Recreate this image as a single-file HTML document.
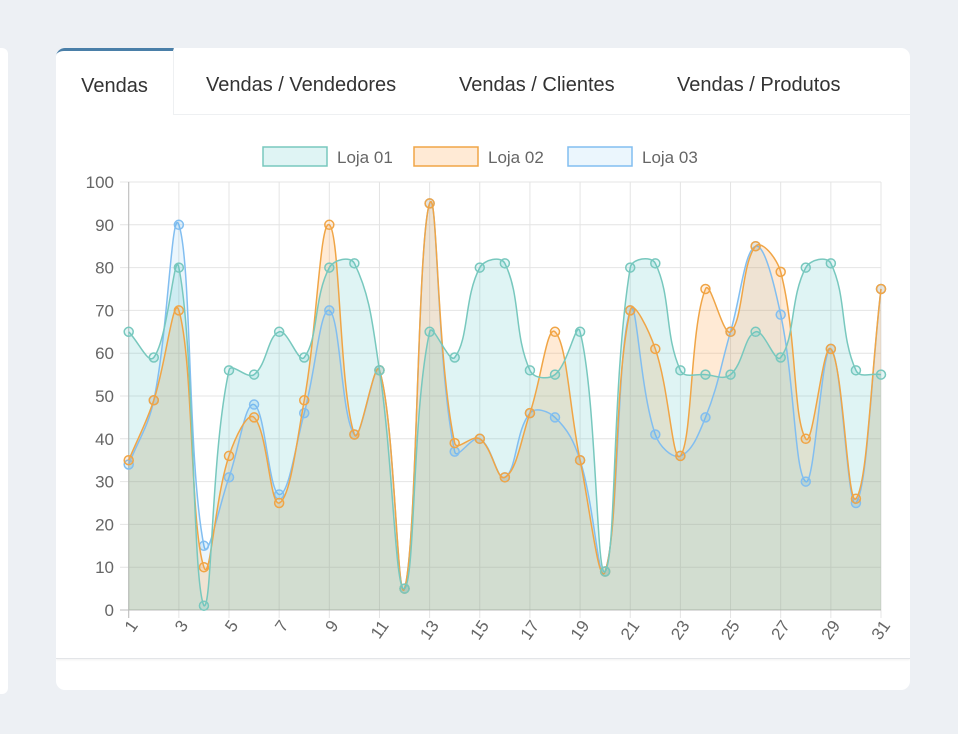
<!DOCTYPE html>
<html><head><meta charset="utf-8"><style>
body{margin:0;width:958px;height:734px;background:#edf0f4;font-family:"Liberation Sans",sans-serif;position:relative;overflow:hidden}
.left{position:absolute;left:-10px;top:48px;width:18px;height:646px;background:#fff;border-radius:6px}
.card{position:absolute;left:56px;top:48px;width:854px;height:642px;background:#fff;border-radius:9px;overflow:hidden}
.tabs{position:absolute;left:0;top:0;width:854px;height:66px;border-bottom:1px solid #eef0f2}
.tab{position:absolute;top:0;height:66px;line-height:74px;font-size:20px;color:#333}
.active{left:0;width:117px;border-top:3px solid #4a7fa8;border-right:1px solid #eef0f2;height:64px;background:#fff;text-align:center;line-height:70px;z-index:2;box-sizing:content-box;border-radius:8px 0 0 0}
.panel{position:absolute;left:0;top:67px;width:854px;height:543px;border-bottom:1px solid #e3e5e8;box-shadow:0 1px 2px rgba(0,0,0,.06)}
svg{position:absolute;left:0;top:0}
</style></head><body>
<div class="left"></div>
<div class="card">
<div class="tabs">
<div class="tab active">Vendas</div>
<div class="tab" style="left:150px">Vendas / Vendedores</div>
<div class="tab" style="left:403px">Vendas / Clientes</div>
<div class="tab" style="left:621px">Vendas / Produtos</div>
</div>
<div class="panel"></div>
</div>
<svg id="c" width="958" height="734" font-family="Liberation Sans, sans-serif"></svg>
<script>
var d1=[65,59,80,1,56,55,65,59,80,81,56,5,65,59,80,81,56,55,65,9,80,81,56,55,55,65,59,80,81,56,55];
var d2=[35,49,70,10,36,45,25,49,90,41,56,5,95,39,40,31,46,65,35,9,70,61,36,75,65,85,79,40,61,26,75];
var d3=[34,49,90,15,31,48,27,46,70,41,56,5,95,37,40,31,46,45,35,9,70,41,36,45,65,85,69,30,61,25,75];
var X0=128.7,X1=881,Y0=610,Y1=182;
function px(i){return X0+(X1-X0)*i/30}
function py(v){return Y0-(Y0-Y1)*v/100}
var s='';
for(var v=0;v<=100;v+=10){var y=py(v);s+='<line x1="120" x2="881" y1="'+y+'" y2="'+y+'" stroke="#e4e4e4" stroke-width="1"/>';
s+='<text x="114" y="'+(y+6)+'" font-size="17" fill="#666" text-anchor="end">'+v+'</text>';}
for(var i=0;i<31;i+=2){var x=px(i);s+='<line x1="'+x+'" x2="'+x+'" y1="182" y2="618" stroke="#e4e4e4"/>';
s+='<text transform="translate('+(x+5)+',622) rotate(-55)" font-size="17" fill="#666" text-anchor="end" dy="6">'+(i+1)+'</text>';}
s+='<line x1="128.7" x2="128.7" y1="182" y2="618" stroke="#bbb"/><line x1="120" x2="881" y1="610" y2="610" stroke="#bbb"/>';
function path(d){var p=d.map(function(v,i){return [px(i),py(v)]});var t=0.4;var c=[];
for(var i=0;i<p.length;i++){var pr=p[Math.max(i-1,0)],cu=p[i],nx=p[Math.min(i+1,p.length-1)];
var d01=Math.hypot(cu[0]-pr[0],cu[1]-pr[1]),d12=Math.hypot(nx[0]-cu[0],nx[1]-cu[1]);var s01=d01/(d01+d12||1),s12=d12/(d01+d12||1);
var fa=t*s01,fb=t*s12;c.push([[cu[0]-fa*(nx[0]-pr[0]),cu[1]-fa*(nx[1]-pr[1])],[cu[0]+fb*(nx[0]-pr[0]),cu[1]+fb*(nx[1]-pr[1])]]);}
function cap(q){return [Math.max(X0,Math.min(X1,q[0])),Math.max(Y1,Math.min(Y0,q[1]))]}
var str='M'+p[0][0]+','+p[0][1];for(var i=1;i<p.length;i++){var a=cap(c[i-1][1]),b=cap(c[i][0]);str+=' C'+a+' '+b+' '+p[i];}return str;}
var sets=[[d3,'54,162,235',0.1,'130,190,240'],[d2,'255,159,64',0.22,'240,165,70'],[d1,'75,192,192',0.18,'120,200,190']];
sets.forEach(function(st){var pa=path(st[0]);s+='<path d="'+pa+' L'+X1+','+Y0+' L'+X0+','+Y0+'Z" fill="rgba('+st[1]+','+st[2]+')"/>';});
sets.forEach(function(st){var pa=path(st[0]);s+='<path d="'+pa+'" fill="none" stroke="rgb('+st[3]+')" stroke-width="1.5"/>';
st[0].forEach(function(v,i){s+='<circle cx="'+px(i)+'" cy="'+py(v)+'" r="4.5" fill="rgba('+st[1]+',0.15)" stroke="rgb('+st[3]+')" stroke-width="1.5"/>';});});
var lg=[[263,'Loja 01','75,192,192',0.18,'120,200,190'],[414,'Loja 02','255,159,64',0.22,'240,165,70'],[568,'Loja 03','54,162,235',0.1,'130,190,240']];
lg.forEach(function(l){s+='<rect x="'+l[0]+'" y="147" width="64" height="19" fill="rgba('+l[2]+','+l[3]+')" stroke="rgb('+l[4]+')" stroke-width="1.5"/>';
s+='<text x="'+(l[0]+74)+'" y="163" font-size="17" fill="#666">'+l[1]+'</text>';});
document.getElementById('c').innerHTML=s;
</script>
</body></html>
